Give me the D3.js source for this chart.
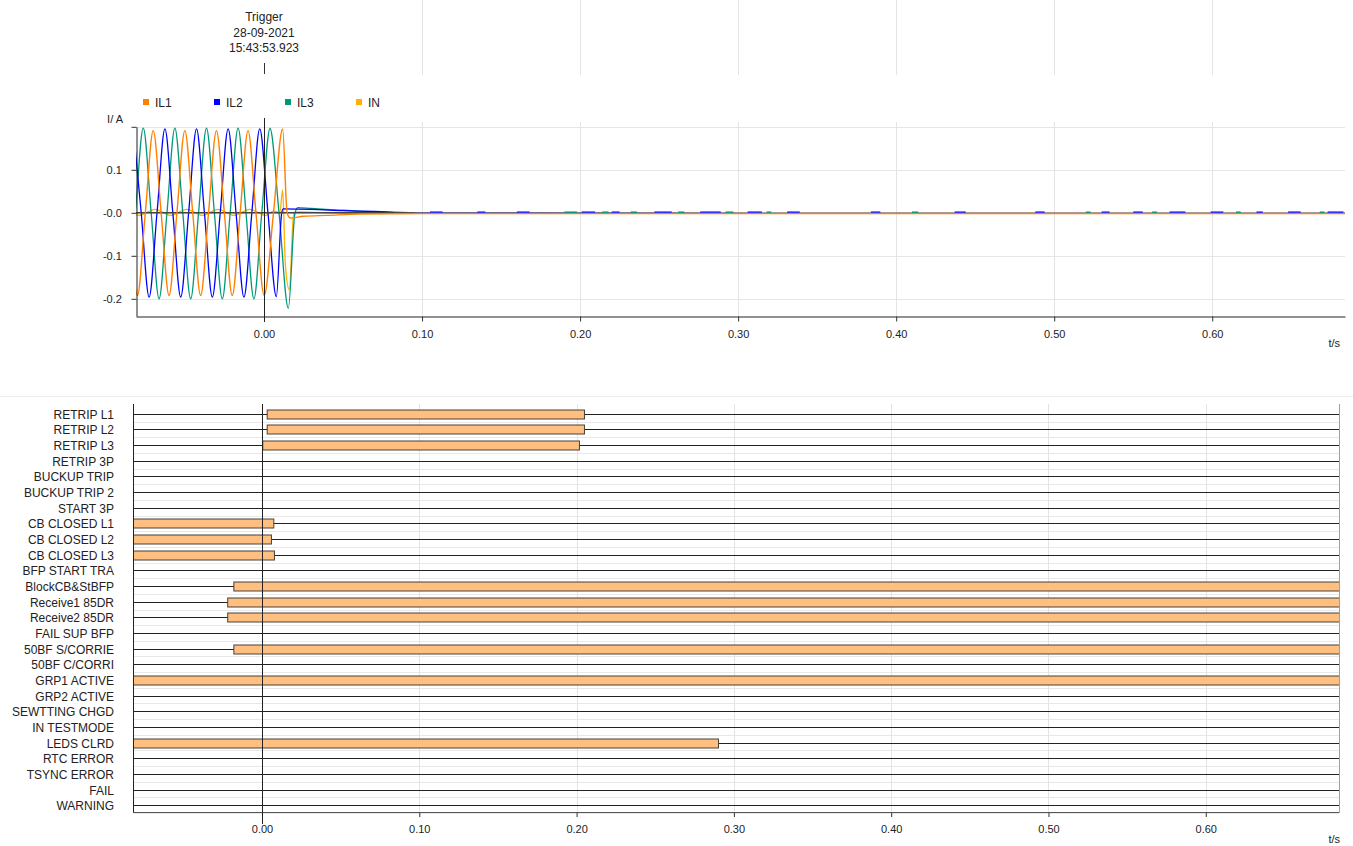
<!DOCTYPE html>
<html>
<head>
<meta charset="utf-8">
<script src="https://cdn.jsdelivr.net/npm/d3@7/dist/d3.min.js"></script>
<style>
body { margin: 0; background: #fff; }
svg { display: block; font-family: "Liberation Sans", Arial, sans-serif; }
</style>
</head>
<body>
<div id="chart"></div>
<script>
// analog traces, key points: [t in s, I in A]
var il1Points = [[-0.0851, 0], [-0.0801, -0.192], [-0.0751, 0], [-0.0701, 0.191], [-0.0651, 0], [-0.0601, -0.192],
    [-0.0551, 0], [-0.0501, 0.191], [-0.0451, 0], [-0.0401, -0.192], [-0.0351, 0], [-0.0301, 0.191],
    [-0.0251, 0], [-0.0201, -0.192], [-0.0151, 0], [-0.0101, 0.191], [-0.0051, 0], [0.0001, -0.192],
    [0.0060, 0], [0.0118, 0.195], [0.0146, 0], [0.0165, -0.012], [0.025, -0.008], [0.04, -0.006],
    [0.06, -0.003], [0.1, -0.0015], [0.69, -0.0015]];
var il2Points = [[-0.0827, 0.195], [-0.0777, 0], [-0.0727, -0.196], [-0.0677, 0], [-0.0627, 0.195], [-0.0577, 0],
    [-0.0527, -0.196], [-0.0477, 0], [-0.0427, 0.195], [-0.0377, 0], [-0.0327, -0.196], [-0.0277, 0],
    [-0.0227, 0.195], [-0.0177, 0], [-0.0127, -0.196], [-0.0077, 0], [-0.0027, 0.195], [0.0025, 0],
    [0.0078, -0.195], [0.0112, 0], [0.0122, 0.009], [0.03, 0.008], [0.05, 0.005], [0.07, 0.003],
    [0.095, -0.001], [0.69, -0.0015]];
var il3Points = [[-0.0864, -0.2], [-0.0814, 0], [-0.0764, 0.197], [-0.0714, 0], [-0.0664, -0.2], [-0.0614, 0],
    [-0.0564, 0.197], [-0.0514, 0], [-0.0464, -0.2], [-0.0414, 0], [-0.0364, 0.197], [-0.0314, 0],
    [-0.0264, -0.2], [-0.0214, 0], [-0.0164, 0.197], [-0.0114, 0], [-0.0064, -0.2], [-0.0014, 0],
    [0.0038, 0.196], [0.0095, 0], [0.0154, -0.222], [0.0196, 0], [0.0215, 0.012], [0.03, 0.010],
    [0.045, 0.007], [0.06, 0.004], [0.08, 0.002], [0.1, -0.001], [0.69, -0.0015]];
var inPoints = [[-0.089, 0.008], [-0.079, -0.006], [-0.069, 0.008], [-0.059, -0.006], [-0.049, 0.008],
    [-0.039, -0.006], [-0.029, 0.008], [-0.019, -0.006], [-0.009, 0.008], [0.001, -0.006], [0.0060, 0.004],
    [0.0100, 0], [0.0118, 0.053], [0.0135, -0.12], [0.0160, -0.179], [0.0188, 0], [0.022, 0.002],
    [0.05, -0.001], [0.69, -0.0015]];

// little blips of IL2 / IL3 left on the zero line after the trip [t0, t1]
var il2Blips = [[0.105, 0.113], [0.135, 0.14], [0.16, 0.168], [0.201, 0.2095], [0.220, 0.225], [0.247, 0.258],
    [0.276, 0.289], [0.306, 0.315], [0.331, 0.339], [0.384, 0.390], [0.437, 0.444], [0.488, 0.494],
    [0.530, 0.535], [0.550, 0.556], [0.573, 0.583], [0.599, 0.607], [0.628, 0.632], [0.648, 0.656], [0.673, 0.683]];
var il3Blips = [[0.19, 0.198], [0.214, 0.218], [0.232, 0.236], [0.262, 0.266], [0.292, 0.297], [0.318, 0.321],
    [0.41, 0.414], [0.52, 0.523], [0.562, 0.565], [0.615, 0.618], [0.668, 0.671]];

var seriesNames = ["IL1", "IL2", "IL3", "IN"];
var seriesColors = ["#ff8000", "#0000ff", "#009977", "#ffb000"];

var xTicks = [0, 0.1, 0.2, 0.3, 0.4, 0.5, 0.6];
var yTicks = [0.2, 0.1, 0, -0.1, -0.2];
var yTickLabels = ["", "0.1", "-0.0", "-0.1", "-0.2"];

var triggerLines = ["Trigger", "28-09-2021", "15:43:53.923"];

// binary channels
var digitalNames = ["RETRIP L1", "RETRIP L2", "RETRIP L3", "RETRIP 3P", "BUCKUP TRIP", "BUCKUP TRIP 2",
    "START 3P", "CB CLOSED L1", "CB CLOSED L2", "CB CLOSED L3", "BFP START TRA", "BlockCB&StBFP",
    "Receive1 85DR", "Receive2 85DR", "FAIL SUP BFP", "50BF S/CORRIE", "50BF C/CORRI", "GRP1 ACTIVE",
    "GRP2 ACTIVE", "SEWTTING CHGD", "IN TESTMODE", "LEDS CLRD", "RTC ERROR", "TSYNC ERROR", "FAIL", "WARNING"];
// [channel, on, off]  (null = beyond the record)
var digitalOn = [
    ["RETRIP L1", 0.0030, 0.2047],
    ["RETRIP L2", 0.0030, 0.2047],
    ["RETRIP L3", 0.0002, 0.2015],
    ["CB CLOSED L1", null, 0.0072],
    ["CB CLOSED L2", null, 0.0057],
    ["CB CLOSED L3", null, 0.0076],
    ["BlockCB&StBFP", -0.0182, null],
    ["Receive1 85DR", -0.0221, null],
    ["Receive2 85DR", -0.0221, null],
    ["50BF S/CORRIE", -0.0182, null],
    ["GRP1 ACTIVE", null, null],
    ["LEDS CLRD", null, 0.2899]
];

var width = 1353, height = 846;
var svg = d3.select("#chart").append("svg")
    .attr("width", width)
    .attr("height", height);

var fmtT = d3.format(".2f");

// ---------- analog panel ----------
var aX = d3.scaleLinear().domain([-0.081, 0.684]).range([136, 1345]);
var aY = d3.scaleLinear().domain([-0.24, 0.2]).range([316, 126.8]);

// header grid
svg.append("g").selectAll("line")
    .data(xTicks.slice(1)).enter().append("line")
    .attr("x1", d => Math.round(aX(d)) + 0.5).attr("x2", d => Math.round(aX(d)) + 0.5)
    .attr("y1", 0).attr("y2", 75)
    .attr("stroke", "#e4e4e4");

// trigger label
svg.append("g").selectAll("text")
    .data(triggerLines).enter().append("text")
    .attr("x", aX(0))
    .attr("y", (d, i) => 21 + i * 15.5)
    .attr("text-anchor", "middle")
    .attr("font-size", 12)
    .attr("fill", "#222")
    .text(d => d);
svg.append("line")
    .attr("x1", Math.round(aX(0)) + 0.5).attr("x2", Math.round(aX(0)) + 0.5)
    .attr("y1", 63).attr("y2", 74)
    .attr("stroke", "#333");

// legend
var legend = svg.append("g").selectAll("g")
    .data(seriesNames).enter().append("g")
    .attr("transform", (d, i) => "translate(" + (143 + i * 71) + ",102)");
legend.append("rect")
    .attr("x", 0).attr("y", -3).attr("width", 6).attr("height", 6)
    .attr("fill", (d, i) => seriesColors[i]);
legend.append("text")
    .attr("x", 12).attr("y", 4.5)
    .attr("font-size", 12)
    .attr("fill", "#222")
    .text(d => d);

// grid
svg.append("g").selectAll("line")
    .data(yTicks).enter().append("line")
    .attr("x1", 136).attr("x2", 1345)
    .attr("y1", d => Math.round(aY(d)) + 0.5).attr("y2", d => Math.round(aY(d)) + 0.5)
    .attr("stroke", "#e6e6e6");
svg.append("g").selectAll("line")
    .data(xTicks.slice(1)).enter().append("line")
    .attr("x1", d => Math.round(aX(d)) + 0.5).attr("x2", d => Math.round(aX(d)) + 0.5)
    .attr("y1", 122).attr("y2", 316)
    .attr("stroke", "#e4e4e4");

svg.append("clipPath").attr("id", "aclip")
    .append("rect").attr("x", 136).attr("y", 110).attr("width", 1209).attr("height", 206);

var line = d3.line()
    .x(d => aX(d[0]))
    .y(d => aY(d[1]))
    .curve(d3.curveMonotoneX);

var traces = svg.append("g").attr("clip-path", "url(#aclip)");
[[inPoints, 3], [il3Points, 2], [il2Points, 1]].forEach(function (s) {
    traces.append("path")
        .datum(s[0])
        .attr("d", line)
        .attr("fill", "none")
        .attr("stroke", seriesColors[s[1]])
        .attr("stroke-width", 1.3);
});

// zero reference (dark) through the pre-fault part
traces.append("line")
    .attr("x1", aX(-0.081)).attr("x2", aX(0.095))
    .attr("y1", aY(0)).attr("y2", aY(0))
    .attr("stroke", "#444").attr("stroke-width", 1.4);

traces.append("path")
    .datum(il1Points)
    .attr("d", line)
    .attr("fill", "none")
    .attr("stroke", seriesColors[0])
    .attr("stroke-width", 1.4);

traces.append("g").selectAll("line")
    .data(il3Blips).enter().append("line")
    .attr("x1", d => aX(d[0])).attr("x2", d => aX(d[1]))
    .attr("y1", aY(0.0015)).attr("y2", aY(0.0015))
    .attr("stroke", seriesColors[2]).attr("stroke-width", 1.4);
traces.append("g").selectAll("line")
    .data(il2Blips).enter().append("line")
    .attr("x1", d => aX(d[0])).attr("x2", d => aX(d[1]))
    .attr("y1", aY(0.0015)).attr("y2", aY(0.0015))
    .attr("stroke", "#3030ff").attr("stroke-width", 1.6);

// axes
svg.append("g")
    .attr("transform", "translate(0,316.5)")
    .call(d3.axisBottom(aX).tickValues(xTicks).tickFormat(fmtT).tickSize(5).tickSizeOuter(0))
    .call(g => g.select(".domain").attr("stroke", "#222"))
    .call(g => g.selectAll("text").attr("font-size", 11).attr("fill", "#222").attr("dy", "1.25em"))
    .call(g => g.selectAll(".tick line").attr("stroke", "#333"));

svg.append("g")
    .attr("transform", "translate(136.5,0)")
    .call(d3.axisLeft(aY).tickValues(yTicks).tickFormat((d, i) => yTickLabels[i]).tickSize(5).tickSizeOuter(0))
    .call(g => g.select(".domain").attr("stroke", "#222"))
    .call(g => g.selectAll("text").attr("font-size", 11).attr("fill", "#222").attr("dx", "-0.6em"))
    .call(g => g.selectAll(".tick line").attr("stroke", "#333"));

svg.append("text")
    .attr("x", 123).attr("y", 123)
    .attr("text-anchor", "end")
    .attr("font-size", 11).attr("fill", "#222")
    .text("I/ A");

svg.append("text")
    .attr("x", 1340).attr("y", 347)
    .attr("text-anchor", "end")
    .attr("font-size", 11).attr("fill", "#222")
    .text("t/s");

// trigger cursor
svg.append("line")
    .attr("x1", Math.round(aX(0)) + 0.5).attr("x2", Math.round(aX(0)) + 0.5)
    .attr("y1", 118).attr("y2", 322)
    .attr("stroke", "#222");

// ---------- binary panel ----------
var dX = d3.scaleLinear().domain([-0.082, 0.6847]).range([133, 1339]);
var dY = d3.scaleBand().domain(digitalNames).range([406, 813]);
var rowY = name => Math.round(dY(name) + dY.bandwidth() / 2) + 0.5;

svg.append("line")
    .attr("x1", 0).attr("x2", width)
    .attr("y1", 396.5).attr("y2", 396.5)
    .attr("stroke", "#ececec");

// row separators
svg.append("g").selectAll("line")
    .data(digitalNames).enter().append("line")
    .attr("x1", 133).attr("x2", 1339)
    .attr("y1", d => Math.round(dY(d) + dY.bandwidth()) + 0.5)
    .attr("y2", d => Math.round(dY(d) + dY.bandwidth()) + 0.5)
    .attr("stroke", "#e8e8e8");
svg.append("g").selectAll("line")
    .data(xTicks.slice(1)).enter().append("line")
    .attr("x1", d => Math.round(dX(d)) + 0.5).attr("x2", d => Math.round(dX(d)) + 0.5)
    .attr("y1", 404).attr("y2", 813)
    .attr("stroke", "#e4e4e4");

// channel base lines
svg.append("g").selectAll("line")
    .data(digitalNames).enter().append("line")
    .attr("x1", 133).attr("x2", 1339)
    .attr("y1", rowY).attr("y2", rowY)
    .attr("stroke", "#222");

// active states
svg.append("g").selectAll("rect")
    .data(digitalOn).enter().append("rect")
    .attr("x", d => dX(d[1] === null ? dX.domain()[0] : d[1]) + 0.5)
    .attr("width", d => dX(d[2] === null ? dX.domain()[1] : d[2]) - dX(d[1] === null ? dX.domain()[0] : d[1]))
    .attr("y", d => rowY(d[0]) - 4.5)
    .attr("height", 9)
    .attr("fill", "#ffbf80")
    .attr("stroke", "#4a4038")
    .attr("stroke-width", 1);

// labels
svg.append("g").selectAll("text")
    .data(digitalNames).enter().append("text")
    .attr("x", 114)
    .attr("y", d => rowY(d) + 4)
    .attr("text-anchor", "end")
    .attr("font-size", 12)
    .attr("fill", "#222")
    .text(d => d);

svg.append("g")
    .attr("transform", "translate(0,813)")
    .call(d3.axisBottom(dX).tickValues(xTicks).tickFormat(fmtT).tickSize(4).tickSizeOuter(0))
    .call(g => g.select(".domain").remove())
    .call(g => g.selectAll("text").attr("font-size", 11).attr("fill", "#222").attr("dy", "1.2em"))
    .call(g => g.selectAll(".tick line").attr("stroke", "#333"));

svg.append("line")
    .attr("x1", 133.5).attr("x2", 133.5)
    .attr("y1", 404).attr("y2", 813)
    .attr("stroke", "#222");
svg.append("line")
    .attr("x1", 133).attr("x2", 1339)
    .attr("y1", 812.5).attr("y2", 812.5)
    .attr("stroke", "#555");
svg.append("line")
    .attr("x1", Math.round(dX(0)) + 0.5).attr("x2", Math.round(dX(0)) + 0.5)
    .attr("y1", 404).attr("y2", 824)
    .attr("stroke", "#222");
// end-of-record cursor
svg.append("line")
    .attr("x1", 1339.5).attr("x2", 1339.5)
    .attr("y1", 404).attr("y2", 813)
    .attr("stroke", "#77cc22");

svg.append("text")
    .attr("x", 1340).attr("y", 843)
    .attr("text-anchor", "end")
    .attr("font-size", 11).attr("fill", "#222")
    .text("t/s");
</script>
</body>
</html>
